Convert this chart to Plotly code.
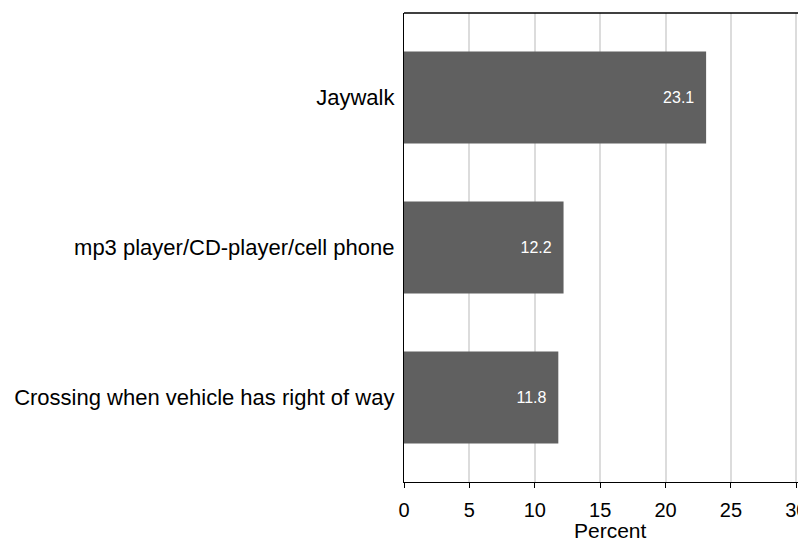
import plotly.graph_objects as go

categories = ["Crossing when vehicle has right of way", "mp3 player/CD-player/cell phone", "Jaywalk"]
values = [11.8, 12.2, 23.1]
labels = ["11.8", "12.2", "23.1"]
x_ticks = [0, 5, 10, 15, 20, 25, 30]
x_title = "Percent"

FONT = "Liberation Sans, Arial, sans-serif"

fig = go.Figure(go.Bar(
    y=categories, x=values, orientation="h",
    marker=dict(color="#606060", line=dict(width=0)),
    width=0.613,
    text=[t + "\u00a0\u00a0" for t in labels], textposition="inside", insidetextanchor="end",
    textfont=dict(color="white", size=16, family=FONT),
    cliponaxis=False,
))

fig.update_layout(
    width=806, height=542,
    margin=dict(l=396, r=0, t=4.7, b=68),
    plot_bgcolor="white", paper_bgcolor="white",
    font=dict(family=FONT, color="black", size=20),
    showlegend=False,
    uniformtext=dict(minsize=16, mode="show"),
    xaxis=dict(
        range=[0, 31.35], tickvals=x_ticks, ticks="outside", ticklen=5, tickwidth=1.3,
        tickcolor="black", showline=True, linecolor="black", linewidth=1.3,
        showgrid=True, gridcolor="#dcdcdc", gridwidth=1.8, zeroline=False,
        tickfont=dict(size=20), ticklabelstandoff=5,
    ),
    yaxis=dict(
        range=[-0.563, 2.563], showline=True, linecolor="black", linewidth=1.3,
        ticks="", showgrid=False, zeroline=False, tickfont=dict(size=22),
        ticklabelstandoff=4,
    ),
    shapes=[dict(type="line", xref="paper", yref="paper", x0=0, x1=1, y0=1, y1=1,
                 line=dict(color="black", width=1.3))],
    annotations=[dict(text=x_title, xref="x", yref="paper", x=15.8, y=0,
                      xanchor="center", yanchor="top", yshift=-35, showarrow=False,
                      font=dict(size=21, family=FONT, color="black"))],
)

fig.write_html("out.html")
